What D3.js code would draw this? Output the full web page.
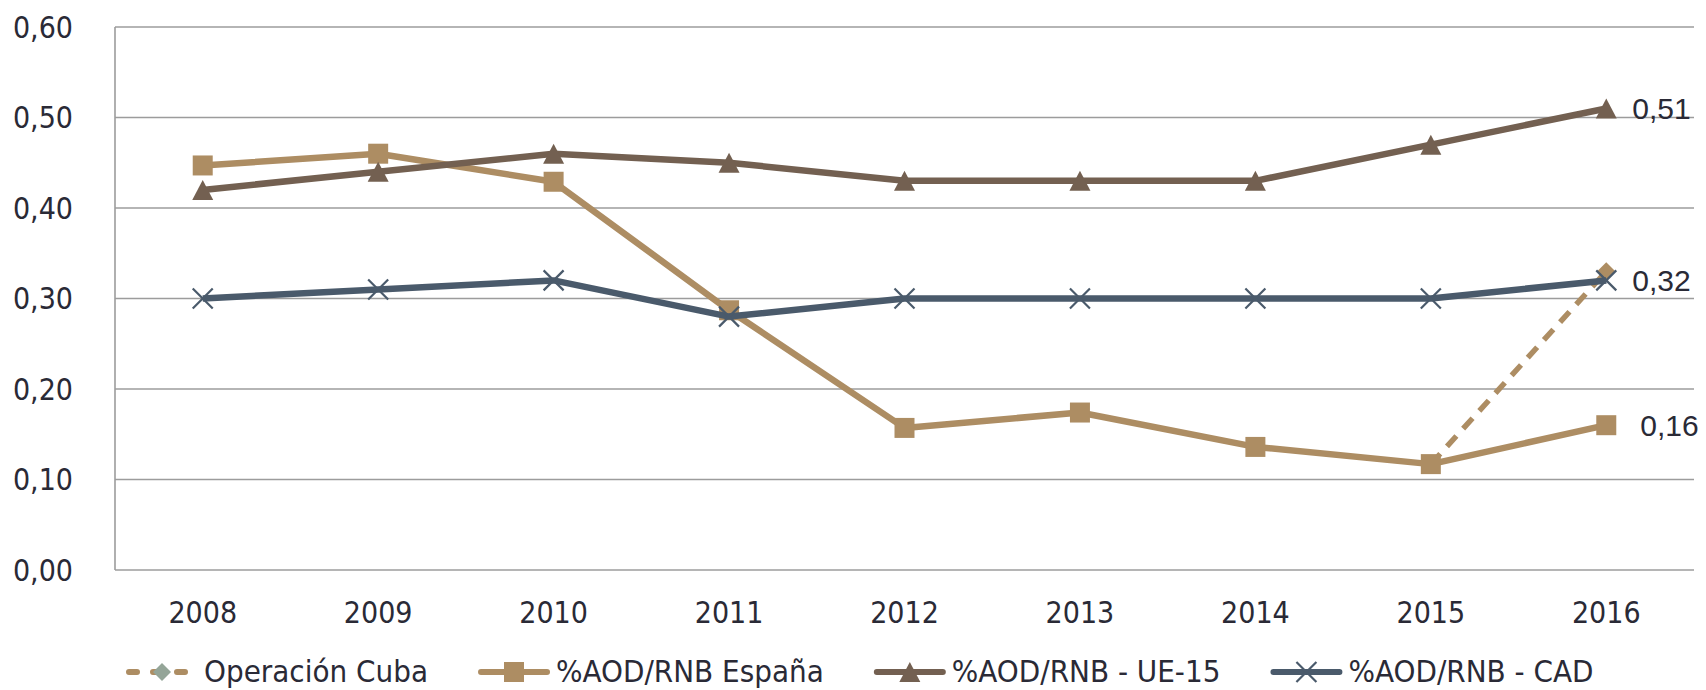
<!DOCTYPE html>
<html>
<head>
<meta charset="utf-8">
<script src="https://cdn.jsdelivr.net/npm/d3@7"></script>
<style>
  body { margin: 0; background: #fff; }
  svg { display: block; }
</style>
</head>
<body>
<div id="chart"></div>
<script>
var years = ["2008", "2009", "2010", "2011", "2012", "2013", "2014", "2015", "2016"];
var cuba = [null, null, null, null, null, null, null, 0.117, 0.33];
var espana = [0.447, 0.46, 0.429, 0.287, 0.157, 0.174, 0.136, 0.117, 0.16];
var ue15 = [0.42, 0.44, 0.46, 0.45, 0.43, 0.43, 0.43, 0.47, 0.51];
var cad = [0.30, 0.31, 0.32, 0.28, 0.30, 0.30, 0.30, 0.30, 0.32];
var yTicks = [0, 0.1, 0.2, 0.3, 0.4, 0.5, 0.6];

var series = [
  { name: "Operación Cuba", values: cuba, color: "#ad8d63", marker: "diamond", dash: "14,10", legendMarker: "#94a598" },
  { name: "%AOD/RNB España", values: espana, color: "#ad8d63", marker: "square", label: true, labelDx: 34 },
  { name: "%AOD/RNB - UE-15", values: ue15, color: "#736051", marker: "triangle", label: true, labelDx: 26 },
  { name: "%AOD/RNB - CAD", values: cad, color: "#4a5a6b", marker: "x", label: true, labelDx: 26 }
];

var width = 1706, height = 690;
var plotLeft = 115, plotRight = 1694, plotTop = 27, plotBottom = 570;
var textColor = "#2a2a36";
var gridColor = "#9c9c9c";

var svg = d3.select("#chart").append("svg")
  .attr("width", width)
  .attr("height", height);

var x = d3.scalePoint().domain(years).range([plotLeft, plotRight]).padding(0.5);
var y = d3.scaleLinear().domain([0, 0.6]).range([plotBottom, plotTop]);
var fmt = function(v) { return d3.format(".2f")(v).replace(".", ","); };

// grid lines
svg.append("g").selectAll("line")
  .data(yTicks)
  .enter().append("line")
  .attr("x1", plotLeft).attr("x2", plotRight)
  .attr("y1", function(d) { return y(d); })
  .attr("y2", function(d) { return y(d); })
  .attr("stroke", gridColor)
  .attr("stroke-width", 1.6);

svg.append("line")
  .attr("x1", plotLeft).attr("x2", plotLeft)
  .attr("y1", plotTop).attr("y2", plotBottom)
  .attr("stroke", gridColor)
  .attr("stroke-width", 1.6);

// y axis labels
svg.append("g").selectAll("text")
  .data(yTicks)
  .enter().append("text")
  .attr("x", 73)
  .attr("y", function(d) { return y(d); })
  .attr("dy", "0.36em")
  .attr("text-anchor", "end")
  .style("font-family", "'DejaVu Sans Condensed', 'DejaVu Sans', sans-serif")
  .style("font-size", "30px")
  .attr("fill", textColor)
  .text(fmt);

// x axis labels
svg.append("g").selectAll("text")
  .data(years)
  .enter().append("text")
  .attr("x", function(d) { return x(d); })
  .attr("y", 623)
  .attr("text-anchor", "middle")
  .style("font-family", "'DejaVu Sans Condensed', 'DejaVu Sans', sans-serif")
  .style("font-size", "30px")
  .attr("fill", textColor)
  .text(function(d) { return d; });

function markerPath(type) {
  if (type == "square") return "M-10,-10H10V10H-10Z";
  if (type == "triangle") return "M0,-10L10.5,10H-10.5Z";
  if (type == "diamond") return "M0,-9L9,0L0,9L-9,0Z";
  return "M-10,-10L10,10M10,-10L-10,10";
}

function drawMarker(sel, s, fill) {
  sel.attr("d", markerPath(s.marker));
  if (s.marker == "x") {
    sel.attr("fill", "none").attr("stroke", s.color).attr("stroke-width", 2.2);
  } else {
    sel.attr("fill", fill || s.color).attr("stroke", "none");
  }
}

var line = d3.line()
  .defined(function(d) { return d.v != null; })
  .x(function(d) { return x(d.year); })
  .y(function(d) { return y(d.v); });

series.forEach(function(s) {
  var pts = years.map(function(yr, i) { return { year: yr, v: s.values[i] }; });
  var g = svg.append("g");
  g.append("path")
    .datum(pts)
    .attr("d", line)
    .attr("fill", "none")
    .attr("stroke", s.color)
    .attr("stroke-width", s.dash ? 5.5 : 6.5)
    .attr("stroke-dasharray", s.dash || null)
    .attr("stroke-linejoin", "round");

  g.selectAll(".m")
    .data(pts.filter(function(d) { return d.v != null; }))
    .enter().append("path")
    .attr("class", "m")
    .attr("transform", function(d) { return "translate(" + x(d.year) + "," + y(d.v) + ")"; })
    .each(function() { drawMarker(d3.select(this), s); });

  if (s.label) {
    var last = pts[pts.length - 1];
    g.append("text")
      .attr("x", x(last.year) + s.labelDx)
      .attr("y", y(last.v))
      .attr("dy", "0.36em")
      .style("font-family", "'Liberation Sans', Arial, sans-serif")
      .style("font-size", "30px")
      .attr("fill", textColor)
      .text(fmt(last.v));
  }
});

// legend
var legend = svg.append("g");
var lx = 126, ly = 672;
series.forEach(function(s) {
  var item = legend.append("g").attr("transform", "translate(" + lx + "," + ly + ")");
  item.append("line")
    .attr("x1", 3).attr("x2", 69)
    .attr("y1", 0).attr("y2", 0)
    .attr("stroke", s.color)
    .attr("stroke-width", 6)
    .attr("stroke-linecap", "round")
    .attr("stroke-dasharray", s.dash ? "8,16" : null);
  var m = item.append("path")
    .attr("transform", "translate(36,0)");
  drawMarker(m, s, s.legendMarker);
  var t = item.append("text")
    .attr("x", 78)
    .attr("y", 0)
    .attr("dy", "0.32em")
    .style("font-family", "'DejaVu Sans Condensed', 'DejaVu Sans', sans-serif")
    .style("font-size", "31px")
    .attr("fill", textColor)
    .text(s.name);
  lx += 78 + t.node().getComputedTextLength() + 50;
});
</script>
</body>
</html>
